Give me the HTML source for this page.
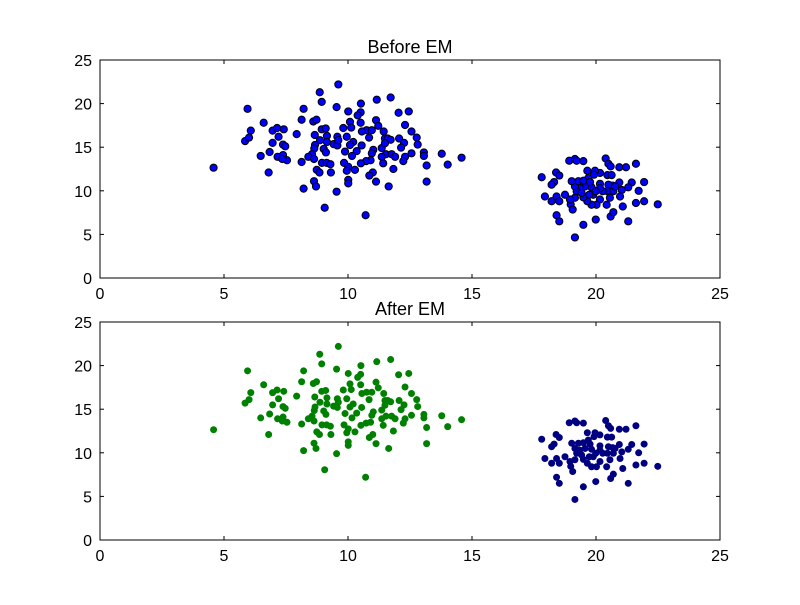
<!DOCTYPE html>
<html><head><meta charset="utf-8"><style>
body{margin:0;background:#fff;}
svg text{font-family:"Liberation Sans",sans-serif;}
</style></head><body>
<svg id="chart" width="800" height="600" xmlns="http://www.w3.org/2000/svg"></svg>
<script>
const xTicks=[0,5,10,15,20,25];
const yTicks=[0,5,10,15,20,25];
const titles=["Before EM","After EM"];
const c1x=[5.95,8.86,8.94,9.54,9.61,8.21,6.08,5.85,6.01,6.6,6.96,7.14,7.41,7.2,6.96,7.38,7.47,6.48,6.84,7.16,7.38,7.54,7.35,4.58,6.8,7.93,8.13,8.6,8.73,8.66,8.94,9.1,9.15,8.87,9.15,8.67,9.02,8.64,9.11,8.55,8.4,8.63,8.13,8.95,9.14,9.29,9.42,9.57,9.57,8.74,8.85,9.31,8.63,8.71,8.21,9.54,9.06,
10.01,10.52,10.51,10.39,11.16,11.72,12.04,12.45,10.08,10.51,9.81,10.13,11.13,11.22,10.75,10.96,10.56,11.44,12.3,12.56,12.77,12.81,10.85,11.49,11.6,11.72,12.06,12.26,12.14,9.95,9.61,10.21,10.08,10.55,9.88,10.35,10.16,11.02,10.96,11.36,11.49,11.53,11.76,11.9,11.36,12.3,12.23,12.56,13.06,13.06,13.78,14.58,14.02,13.17,13.17,10.91,10.73,10.52,11.42,9.84,10.01,10.28,9.95,11.83,11.0,10.86,11.13,10.01,10.01,11.64,10.71];
const c1y=[19.4,21.3,20.2,19.6,22.2,19.4,16.9,15.7,16.1,17.8,16.9,17.2,17.05,16.2,15.5,15.3,15.1,14.0,14.45,13.9,14.1,13.5,13.65,12.65,12.1,16.5,18.15,17.95,18.15,16.4,17.05,17.15,16.3,15.8,15.6,15.25,14.8,14.85,14.4,14.2,13.9,13.65,13.3,13.2,13.2,13.05,15.35,15.2,16.2,12.4,12.1,12.1,11.1,10.5,10.25,9.9,8.06,
19.1,20.0,19.0,18.65,20.45,20.7,18.95,19.1,17.9,17.8,17.2,17.25,18.1,17.45,16.95,16.95,16.8,16.8,17.55,16.8,16.1,15.3,16.1,16.0,16.0,15.85,16.0,15.5,14.95,16.2,15.8,15.6,15.25,15.2,14.5,14.55,14.0,14.7,14.3,14.9,15.45,14.2,14.2,13.9,13.9,13.9,13.4,14.3,14.4,14.0,14.25,13.8,13.0,12.9,11.05,13.5,13.4,13.15,13.15,13.2,12.75,12.4,12.3,12.5,12.1,11.75,11.05,11.25,10.85,10.5,7.2];
const c2x=[18.92,19.15,19.22,19.49,20.39,20.5,20.59,20.94,21.21,21.61,17.81,18.39,18.52,18.31,18.21,17.94,18.21,18.41,18.75,18.52,18.98,19.06,18.41,18.52,19.49,19.15,19.99,20.59,20.7,21.3,21.08,21.61,21.94,22.49,21.94,21.72,21.44,21.3,21.04,20.97,20.94,20.67,20.46,20.63,20.16,19.96,19.65,19.92,19.69,20.16,20.5,20.46,20.56,20.43,20.16,20.02,19.82,19.65,19.49,19.89,20.27,20.16,19.82,19.56,19.35,19.22,19.15,19.29,19.49,19.76,19.02,19.42,19.15,19.73,19.99,20.7,20.77,18.95];
const c2y=[13.45,13.65,13.45,13.4,13.7,13.1,12.8,12.7,12.7,13.1,11.55,12.1,11.75,11.0,10.7,9.35,8.8,9.35,9.55,8.8,8.45,7.85,7.2,6.5,6.1,4.65,6.7,7.05,7.55,6.5,8.2,8.6,8.8,8.45,11.0,10.0,10.95,10.4,10.1,9.35,10.95,10.6,11.8,11.8,12.05,12.3,12.3,11.85,11.45,10.8,10.7,9.95,9.2,8.4,9.0,8.4,8.4,8.8,9.25,9.55,9.95,10.3,10.4,10.5,10.3,9.95,10.5,11.1,11.15,11.0,11.1,9.75,9.2,9.55,9.95,9.95,10.5,9.0];

const svg=document.getElementById('chart');
const NS='http://www.w3.org/2000/svg';
function mk(tag,attrs,parent){const e=document.createElementNS(NS,tag);for(const k in attrs)e.setAttribute(k,attrs[k]);(parent||svg).appendChild(e);return e;}
const X0=100,X1=720;
const panels=[{top:60,bot:278},{top:322,bot:540}];
panels.forEach((p,pi)=>{
  const sx=v=>X0+(v/25)*(X1-X0);
  const sy=v=>p.bot-(v/25)*(p.bot-p.top);
  const g=mk('g',{});
  
  
  const t=mk('text',{x:410,y:p.top-7,'text-anchor':'middle','font-size':'18'},g);
  t.textContent=titles[pi];
  
  
  const pts=mk('g',{},g);
  
  
  function draw(xs,ys,fill,stroke,name){
    for(let i=0;i<xs.length;i++){
      const c=mk('circle',{cx:sx(xs[i]),cy:sy(ys[i]),r:pi===0?3.6:3.5,fill:fill,stroke:stroke,'stroke-width':pi===0?1:0},pts);
      
      
    }
  }
  if(pi===0){draw(c1x,c1y,'#0000ff','#000','point');draw(c2x,c2y,'#0000ff','#000','point');}
  else{draw(c1x,c1y,'#008000','none','cluster1-point');draw(c2x,c2y,'#000080','none','cluster2-point');}
  const f=mk('rect',{x:X0,y:p.top,width:X1-X0,height:p.bot-p.top,fill:'none',stroke:'#000','stroke-width':1},g);
  
  
  xTicks.forEach(v=>{
    const x=sx(v);
    mk('line',{x1:x,x2:x,y1:p.bot,y2:p.bot-4,stroke:'#000'},g);
    mk('line',{x1:x,x2:x,y1:p.top,y2:p.top+4,stroke:'#000'},g);
    const l=mk('text',{x:x,y:p.bot+21,'text-anchor':'middle','font-size':'16'},g);
    l.textContent=v;
    
    
  });
  yTicks.forEach(v=>{
    const y=sy(v);
    mk('line',{x1:X0,x2:X0+4,y1:y,y2:y,stroke:'#000'},g);
    mk('line',{x1:X1,x2:X1-4,y1:y,y2:y,stroke:'#000'},g);
    const l=mk('text',{x:X0-8,y:y+6,'text-anchor':'end','font-size':'16'},g);
    l.textContent=v;
    
    
  });
});
</script>
</body></html>
